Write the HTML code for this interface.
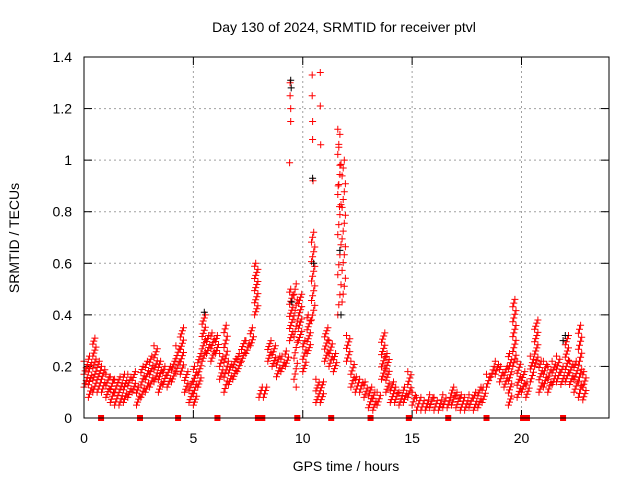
<!DOCTYPE html>
<html><head><meta charset="utf-8"><style>
html,body{margin:0;padding:0;background:#fff;}
svg{display:block;font-family:"Liberation Sans",sans-serif;}
</style></head><body>
<svg id="chart" width="640" height="480" viewBox="0 0 640 480">
<text x="344" y="32" text-anchor="middle" font-size="14">Day 130 of 2024, SRMTID for receiver ptvl</text>
<text x="346" y="471" text-anchor="middle" font-size="14">GPS time / hours</text>
<text transform="translate(19,238) rotate(-90)" text-anchor="middle" font-size="14">SRMTID / TECUs</text>
<g id="grid"></g>
<g id="ticks"></g>
<g id="marks"></g>
<rect x="84" y="57" width="525" height="361" fill="none" stroke="#000" stroke-width="1"/>
</svg>
<script>
const xTicks=[0,5,10,15,20];
const yTicks=[0,0.2,0.4,0.6,0.8,1,1.2,1.4];
const yTickLabels=["0","0.2","0.4","0.6","0.8","1","1.2","1.4"];
const binStart=0, binStep=0.2;
const lo=[0.12,0.08,0.10,0.10,0.10,0.08,0.06,0.05,0.05,0.06,0.08,0.10,0.05,0.08,0.10,0.12,0.14,0.10,0.13,0.12,
0.14,0.18,0.17,0.10,0.06,0.05,0.12,0.22,0.25,0.22,0.25,0.15,0.10,0.13,0.15,0.18,0.22,0.25,0.28,0.40,
0.08,0.08,0.22,0.20,0.16,0.18,0.20,0.30,0.15,0.30,0.18,0.25,0.38,0.06,0.06,0.22,0.20,0.18,0.40,0.45,
0.22,0.12,0.10,0.10,0.08,0.04,0.03,0.05,0.15,0.10,0.06,0.06,0.05,0.06,0.08,0.05,0.03,0.03,0.03,0.04,
0.03,0.03,0.04,0.04,0.05,0.04,0.03,0.03,0.04,0.03,0.04,0.06,0.12,0.16,0.17,0.14,0.12,0.05,0.20,0.08,
0.10,0.08,0.14,0.20,0.10,0.12,0.10,0.13,0.14,0.13,0.14,0.13,0.10,0.08,0.07];
const hi=[0.22,0.24,0.31,0.22,0.20,0.17,0.16,0.15,0.16,0.17,0.17,0.18,0.12,0.20,0.22,0.24,0.28,0.22,0.20,0.20,
0.22,0.28,0.35,0.18,0.14,0.20,0.25,0.40,0.32,0.33,0.32,0.25,0.36,0.22,0.23,0.25,0.30,0.30,0.35,0.60,
0.12,0.12,0.30,0.28,0.24,0.24,0.26,0.50,0.52,0.48,0.30,0.40,0.72,0.15,0.14,0.35,0.30,0.25,1.10,1.00,
0.32,0.22,0.16,0.15,0.14,0.12,0.10,0.10,0.33,0.25,0.14,0.12,0.10,0.12,0.18,0.10,0.08,0.08,0.07,0.09,
0.08,0.07,0.09,0.08,0.12,0.10,0.09,0.08,0.09,0.10,0.12,0.12,0.17,0.20,0.22,0.20,0.20,0.25,0.46,0.22,
0.18,0.14,0.24,0.38,0.22,0.22,0.20,0.22,0.24,0.20,0.32,0.22,0.22,0.36,0.18];
const outT=[9.42,9.42,9.45,9.45,9.4,10.43,10.43,10.45,10.45,10.47,10.8,10.8,10.82,11.6,11.65,11.7,11.62,11.68,9.7,9.6];
const outV=[1.30,1.25,1.20,1.15,0.99,1.33,1.25,1.15,1.08,0.92,1.34,1.21,1.06,1.12,1.05,0.98,0.90,0.82,0.12,0.48];
const blkT=[9.45,9.47,10.45,10.5,11.7,11.75,5.5,22.0,21.9,9.5];
const blkV=[1.31,1.28,0.93,0.60,0.65,0.40,0.41,0.32,0.30,0.45];
const gapT=[0.78,2.56,4.3,6.1,7.95,8.15,9.75,11.3,13.1,14.85,16.65,18.4,20.07,20.25,21.9];

const NS="http://www.w3.org/2000/svg";
const X0=84,X1=609,Y0=418,Y1=57;
const xs=t=>X0+t*(X1-X0)/24;
const ys=v=>Y0-v*(Y0-Y1)/1.4;
function mk(tag,attrs,parent){const e=document.createElementNS(NS,tag);for(const k in attrs)e.setAttribute(k,attrs[k]);parent.appendChild(e);return e;}
const grid=document.getElementById('grid'),ticks=document.getElementById('ticks'),marks=document.getElementById('marks');
yTicks.forEach((v,i)=>{
  const y=ys(v);
  if(i>0&&i<yTicks.length-1){const g=mk('line',{x1:X0,x2:X1,y1:y,y2:y,stroke:'#a0a0a0','stroke-dasharray':'2,3'},grid);
  
  }
  mk('line',{x1:X0,x2:X0+8,y1:y,y2:y,stroke:'#000'},ticks);
  mk('line',{x1:X1-8,x2:X1,y1:y,y2:y,stroke:'#000'},ticks);
  const tx=mk('text',{x:X0-12,y:y+5,'text-anchor':'end','font-size':14},ticks);
  tx.textContent=yTickLabels[i];
  
  
});
xTicks.forEach((t,i)=>{
  const x=xs(t);
  if(i>0){const g=mk('line',{x1:x,x2:x,y1:Y0,y2:Y1,stroke:'#a0a0a0','stroke-dasharray':'2,3'},grid);
  
  }
  mk('line',{x1:x,x2:x,y1:Y0,y2:Y0-8,stroke:'#000'},ticks);
  mk('line',{x1:x,x2:x,y1:Y1,y2:Y1+8,stroke:'#000'},ticks);
  const tx=mk('text',{x:x,y:443,'text-anchor':'middle','font-size':14},ticks);
  tx.textContent=String(t);
  
  
});
let d='';
function plus(t,v){const x=xs(t),y=ys(v);d+=`M${(x-3.5).toFixed(1)} ${y.toFixed(1)}h7M${x.toFixed(1)} ${(y-3.5).toFixed(1)}v7`;}
lo.forEach((l,i)=>{
  const h=hi[i],t=binStart+i*binStep;
  const n=Math.min(18,Math.max(2,Math.round((h-l)/0.012)));
  for(let k=0;k<=n;k++){
    const v=l+(h-l)*k/n;
    plus(t+(k%4)*0.05,v);
  }
});
outT.forEach((t,i)=>plus(t,outV[i]));
const red=mk('path',{d:d,stroke:'#ff0000','stroke-width':1,fill:'none'},marks);


d='';
blkT.forEach((t,i)=>plus(t,blkV[i]));
const blk=mk('path',{d:d,stroke:'#000','stroke-width':1,fill:'none'},marks);


gapT.forEach(t=>{
  const r=mk('rect',{x:xs(t)-3,y:Y0-3,width:6,height:6,fill:'#ff0000'},marks);
  
  
});
</script>
</body></html>
